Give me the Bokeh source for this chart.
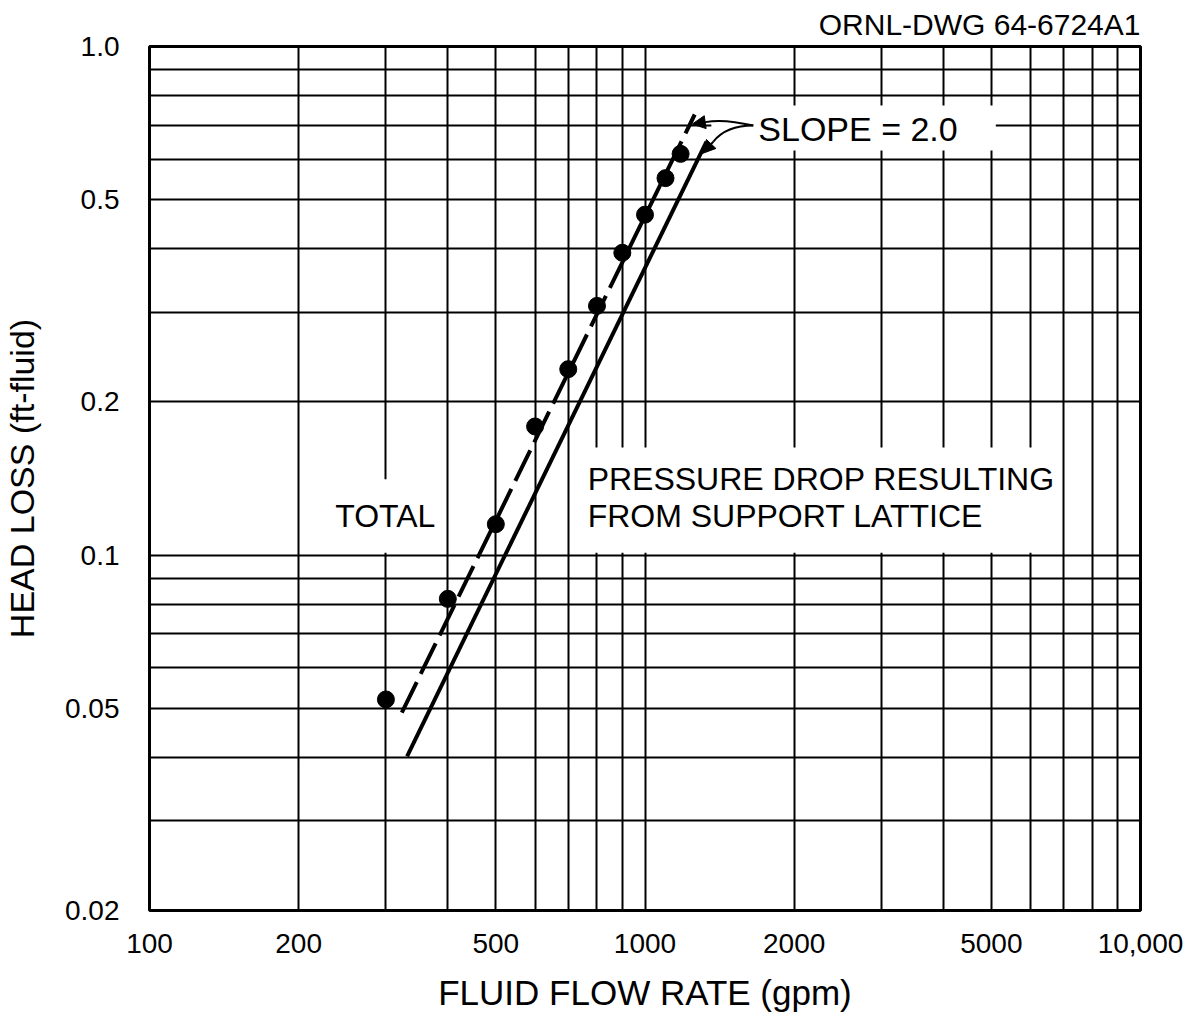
from bokeh.plotting import figure
from bokeh.models import Range1d, FixedTicker, BoxAnnotation, Label, Arrow, NormalHead
from bokeh.embed import file_html
from bokeh.resources import INLINE

# ---- data ----
FLOW_GPM = [300, 400, 500, 600, 700, 800, 900, 1000, 1100, 1180]
HEAD_LOSS = [0.052, 0.082, 0.115, 0.179, 0.232, 0.309, 0.393, 0.467, 0.551, 0.615]

TOTAL_FIT_X = [323, 1260]
TOTAL_FIT_Y = [0.049, 0.735]

LATTICE_X = [331, 1330]
LATTICE_Y = [0.0402, 0.649]

X_TICKS = [100, 200, 500, 1000, 2000, 5000, 10000]
X_TICK_LABELS = ["100", "200", "500", "1000", "2000", "5000", "10,000"]
Y_TICKS = [0.02, 0.05, 0.1, 0.2, 0.5, 1.0]
Y_TICK_LABELS = ["0.02", "0.05", "0.1", "0.2", "0.5", "1.0"]

X_GRID = [200, 300, 400, 500, 600, 700, 800, 900, 1000,
          2000, 3000, 4000, 5000, 6000, 7000, 8000, 9000]
Y_GRID = [0.03, 0.04, 0.05, 0.06, 0.07, 0.08, 0.09, 0.1,
          0.2, 0.3, 0.4, 0.5, 0.6, 0.7, 0.8, 0.9]

FONT = "Liberation Sans"

p = figure(width=1200, height=1015, x_axis_type="log", y_axis_type="log",
           x_range=Range1d(100, 10000), y_range=Range1d(0.02, 1.0),
           output_backend="svg", toolbar_location=None,
           min_border_left=147, min_border_right=60,
           min_border_top=46, min_border_bottom=105,
           background_fill_color="white", border_fill_color="white")

p.title.text = "ORNL-DWG 64-6724A1"
p.title.align = "right"
p.title.text_font = FONT
p.title.text_font_size = "30px"
p.title.text_font_style = "normal"
p.title.text_color = "black"
p.title.standoff = 11

p.outline_line_color = "black"
p.outline_line_width = 3
p.outline_line_alpha = 1

# grids
p.xgrid.ticker = FixedTicker(ticks=X_GRID)
p.ygrid.ticker = FixedTicker(ticks=Y_GRID)
for g in (p.xgrid, p.ygrid):
    g.grid_line_color = "black"
    g.grid_line_width = 2
    g.grid_line_alpha = 1

# axes
p.xaxis.ticker = FixedTicker(ticks=X_TICKS)
p.yaxis.ticker = FixedTicker(ticks=Y_TICKS)
p.xaxis.major_label_overrides = {t: s for t, s in zip(X_TICKS, X_TICK_LABELS)}
p.yaxis.major_label_overrides = {t: s for t, s in zip(Y_TICKS, Y_TICK_LABELS)}
for ax in (p.xaxis, p.yaxis):
    ax.axis_line_color = None
    ax.major_tick_line_color = None
    ax.minor_tick_line_color = None
    ax.major_label_text_font = FONT
    ax.major_label_text_font_size = "28px"
    ax.major_label_text_color = "black"
    ax.axis_label_text_font = FONT
    ax.axis_label_text_font_style = "normal"
    ax.axis_label_text_color = "black"
p.xaxis.axis_label_text_font_size = "35px"
p.yaxis.axis_label_text_font_size = "34px"
p.xaxis.axis_label = "FLUID FLOW RATE (gpm)"
p.yaxis.axis_label = "HEAD LOSS (ft-fluid)"
p.xaxis.major_label_standoff = 17
p.yaxis.major_label_standoff = 24
p.xaxis.axis_label_standoff = 17
p.yaxis.axis_label_standoff = 21

# white boxes behind the lettering (interrupt the grid)
for (l, r, b, t) in [(228, 384, 0.101, 0.141),
                     (728, 6839, 0.101, 0.1627),
                     (1361, 5105, 0.6244, 0.7655)]:
    p.add_layout(BoxAnnotation(left=l, right=r, bottom=b, top=t,
                               fill_color="white", fill_alpha=1,
                               line_color=None, level="underlay"))

# lines
p.line(TOTAL_FIT_X, TOTAL_FIT_Y, line_color="black", line_width=4,
       line_dash="34 9")
p.line(LATTICE_X, LATTICE_Y, line_color="black", line_width=4)

# data points
p.scatter(FLOW_GPM, HEAD_LOSS, size=17, fill_color="black",
          line_color="black", marker="circle")

# text labels
def lab(x, y, text, size="32px"):
    p.add_layout(Label(x=x, y=y, text=text, text_font=FONT,
                       text_font_size=size, text_color="black",
                       text_align="left", text_baseline="middle"))

lab(237, 0.1196, "TOTAL")
lab(766, 0.1414, "PRESSURE DROP RESULTING")
lab(766, 0.1196, "FROM SUPPORT LATTICE")
lab(1693, 0.687, "SLOPE = 2.0", size="34px")

# leaders for slope annotation
p.quadratic(x0=[1654], y0=[0.699], x1=[1324], y1=[0.710],
            cx=[1439], cy=[0.722], line_color="black", line_width=2)
p.quadratic(x0=[1654], y0=[0.699], x1=[1374], y1=[0.650],
            cx=[1459], cy=[0.699], line_color="black", line_width=2)
p.add_layout(Arrow(end=NormalHead(size=13, fill_color="black", line_color="black"),
                   x_start=1324, y_start=0.710, x_end=1246, y_end=0.704,
                   line_color="black", line_width=2))
p.add_layout(Arrow(end=NormalHead(size=13, fill_color="black", line_color="black"),
                   x_start=1374, y_start=0.650, x_end=1305, y_end=0.616,
                   line_color="black", line_width=2))

open("out.html", "w").write(file_html(p, INLINE))
